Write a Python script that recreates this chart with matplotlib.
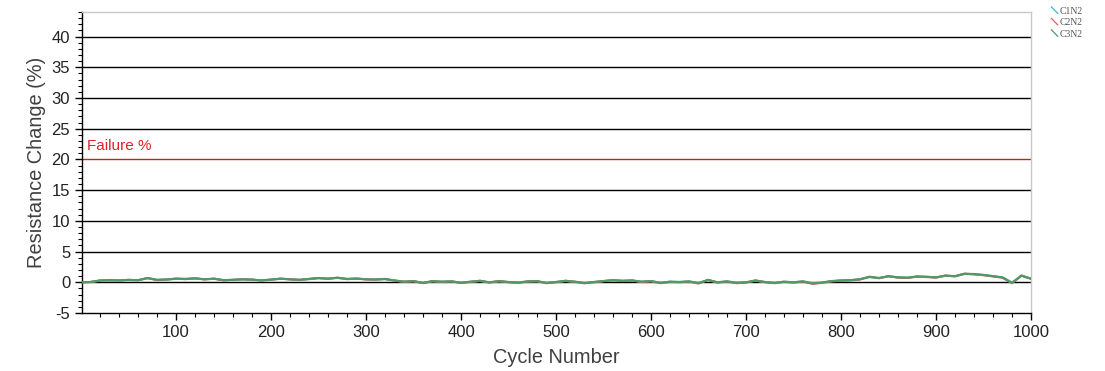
import matplotlib
matplotlib.use("Agg")
import matplotlib.pyplot as plt
from matplotlib.lines import Line2D
from matplotlib.legend_handler import HandlerBase
from matplotlib.ticker import MultipleLocator

# Cycle numbers at which resistance change was logged
cycles = [1] + list(range(10, 1001, 10))

# Resistance change (%) for each specimen
c1n2 = [0.0, 0.05, 0.25, 0.35, 0.3, 0.35, 0.35, 0.65, 0.4, 0.45,
        0.55, 0.55, 0.6, 0.5, 0.55, 0.35, 0.4, 0.45, 0.45, 0.3,
        0.45, 0.55, 0.5, 0.4, 0.5, 0.65, 0.6, 0.7, 0.55, 0.6,
        0.5, 0.45, 0.5, 0.3, 0.1, 0.2, -0.1, 0.15, 0.1, 0.15,
        -0.05, 0.1, 0.2, 0.0, 0.15, 0.05, -0.05, 0.15, 0.15, -0.1,
        0.05, 0.2, 0.1, -0.1, 0.05, 0.2, 0.3, 0.25, 0.3, 0.1,
        0.2, -0.05, 0.1, 0.05, 0.15, -0.1, 0.35, 0.0, 0.15, -0.05,
        0.0, 0.25, 0.05, -0.1, 0.1, 0.0, 0.15, -0.15, -0.05, 0.2,
        0.3, 0.35, 0.5, 0.85, 0.7, 0.95, 0.8, 0.75, 0.9, 0.9,
        0.8, 1.05, 1.0, 1.35, 1.3, 1.2, 1.0, 0.8, -0.05, 1.05, 0.6]
c2n2 = [0.0, 0.05, 0.3, 0.3, 0.3, 0.4, 0.3, 0.7, 0.35, 0.45,
        0.6, 0.5, 0.65, 0.45, 0.6, 0.3, 0.4, 0.5, 0.4, 0.3,
        0.4, 0.6, 0.45, 0.4, 0.55, 0.7, 0.55, 0.75, 0.5, 0.6,
        0.45, 0.45, 0.55, 0.25, 0.1, 0.15, -0.15, 0.2, 0.05, 0.15,
        -0.1, 0.05, 0.25, -0.05, 0.2, 0.0, -0.1, 0.1, 0.2, -0.15,
        0.0, 0.25, 0.05, -0.15, 0.0, 0.2, 0.35, 0.2, 0.3, 0.05,
        0.15, -0.15, 0.05, 0.0, 0.1, -0.2, 0.4, -0.05, 0.1, -0.15,
        -0.05, 0.3, 0.0, -0.15, 0.05, -0.05, 0.1, -0.25, -0.1, 0.15,
        0.25, 0.3, 0.45, 0.9, 0.65, 1.0, 0.75, 0.7, 0.95, 0.85,
        0.75, 1.1, 0.95, 1.4, 1.3, 1.15, 0.95, 0.75, -0.15, 1.1, 0.55]
c3n2 = [0.0, 0.05, 0.3, 0.35, 0.3, 0.4, 0.35, 0.7, 0.4, 0.45,
        0.6, 0.55, 0.65, 0.5, 0.6, 0.35, 0.4, 0.5, 0.45, 0.3,
        0.45, 0.6, 0.5, 0.4, 0.55, 0.7, 0.6, 0.75, 0.55, 0.6,
        0.5, 0.45, 0.55, 0.3, 0.1, 0.2, -0.1, 0.2, 0.1, 0.15,
        -0.1, 0.1, 0.25, 0.0, 0.2, 0.05, -0.05, 0.15, 0.2, -0.1,
        0.05, 0.25, 0.1, -0.15, 0.05, 0.2, 0.35, 0.25, 0.3, 0.1,
        0.2, -0.1, 0.1, 0.05, 0.15, -0.15, 0.4, 0.0, 0.15, -0.1,
        0.0, 0.3, 0.05, -0.1, 0.1, 0.0, 0.15, -0.2, -0.05, 0.2,
        0.3, 0.35, 0.5, 0.9, 0.7, 1.0, 0.8, 0.75, 0.95, 0.9,
        0.8, 1.1, 1.0, 1.4, 1.35, 1.2, 1.0, 0.8, -0.1, 1.1, 0.6]

series_names = ["C1N2", "C2N2", "C3N2"]
series_colors = ["#3fb6c0", "#d9626a", "#4f9a62"]

failure_level = 20
grid_levels = [0, 5, 10, 15, 25, 30, 35, 40]

plt.rcParams["font.family"] = ["Liberation Sans", "DejaVu Sans"]
plt.rcParams["axes.unicode_minus"] = False

fig = plt.figure(figsize=(11.05, 3.71), dpi=100)
ax = fig.add_axes([0.0742, 0.1563, 0.8588, 0.8115])

for lvl in grid_levels:
    ax.axhline(lvl, color="black", lw=1.0, zorder=1)
ax.axhline(failure_level, color="#c8202a", lw=1.0, zorder=1)
ax.text(6, failure_level + 1.0, "Failure %", color="#e0202a", fontsize=11,
        ha="left", va="bottom")

handles = []
for vals, name, col in zip([c1n2, c2n2, c3n2], series_names, series_colors):
    ln, = ax.plot(cycles, vals, color=col, lw=1.5, zorder=3, label=name)
    handles.append(ln)


class DiagonalHandler(HandlerBase):
    def create_artists(self, legend, orig_handle, xdescent, ydescent,
                       width, height, fontsize, trans):
        line = Line2D([-xdescent + width * 0.35, -xdescent + width],
                      [-ydescent + height, -ydescent + height * 0.05],
                      color=orig_handle.get_color(), lw=0.9, transform=trans)
        return [line]


fig.legend(handles=handles, labels=series_names,
           handler_map={Line2D: DiagonalHandler()},
           loc="upper left", bbox_to_anchor=(0.944, 0.995),
           frameon=False, handlelength=1.0, handletextpad=0.2,
           labelspacing=0.25, borderpad=0.0,
           prop={"family": "Liberation Serif", "size": 7},
           labelcolor="#555555")

ax.set_xlim(1, 1000)
ax.set_ylim(-5, 44)
ax.xaxis.set_major_locator(MultipleLocator(100))
ax.xaxis.set_minor_locator(MultipleLocator(20))
ax.yaxis.set_major_locator(MultipleLocator(5))
ax.yaxis.set_minor_locator(MultipleLocator(1))
ax.tick_params(which="major", direction="out", length=5, width=1,
               labelsize=12, colors="black", labelcolor="#222222")
ax.tick_params(which="minor", direction="out", length=3, width=0.8)
ax.tick_params(axis="x", which="both", top=False)
ax.tick_params(axis="y", which="both", right=False)

for side in ("left", "bottom"):
    ax.spines[side].set_color("black")
    ax.spines[side].set_linewidth(1.0)
for side in ("top", "right"):
    ax.spines[side].set_color("#c8c8c8")
    ax.spines[side].set_linewidth(1.0)

ax.set_xlabel("Cycle Number", fontsize=14.4, color="#404040", labelpad=6)
ax.set_ylabel("Resistance Change (%)", fontsize=14.4, color="#404040", labelpad=4)

fig.savefig("out.png", dpi=100)
